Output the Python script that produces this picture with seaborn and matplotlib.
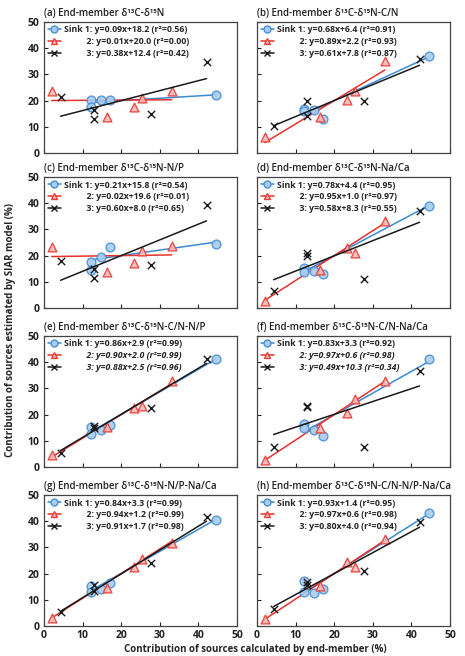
import numpy as np
import pandas as pd
import matplotlib
matplotlib.use("Agg")
import matplotlib.pyplot as plt
import seaborn as sns
from matplotlib.lines import Line2D

sns.set_theme(style="ticks")
plt.rcParams['font.family'] = ['Open Sans', 'DejaVu Sans']

# ---------------- data ----------------
panels = ["a", "b", "c", "d", "e", "f", "g", "h"]
titles = [
    "(a) End-member δ¹³C-δ¹⁵N",
    "(b) End-member δ¹³C-δ¹⁵N-C/N",
    "(c) End-member δ¹³C-δ¹⁵N-N/P",
    "(d) End-member δ¹³C-δ¹⁵N-Na/Ca",
    "(e) End-member δ¹³C-δ¹⁵N-C/N-N/P",
    "(f) End-member δ¹³C-δ¹⁵N-C/N-Na/Ca",
    "(g) End-member δ¹³C-δ¹⁵N-N/P-Na/Ca",
    "(h) End-member δ¹³C-δ¹⁵N-C/N-N/P-Na/Ca",
]

x_sink1 = [12.1, 12.1, 14.8, 17.1, 44.5]
x_sink2 = [2.0, 16.4, 23.4, 25.4, 33.1]
x_sink3 = [4.3, 13.0, 13.0, 27.8, 42.1]

y_sink1 = {
    "a": [20.3, 17.7, 20.3, 20.3, 22.1],
    "b": [16.9, 16.0, 16.6, 13.1, 37.2],
    "c": [17.6, 14.6, 19.5, 23.1, 24.5],
    "d": [15.1, 13.8, 14.0, 13.0, 38.8],
    "e": [15.1, 12.5, 14.0, 16.2, 41.2],
    "f": [16.6, 14.7, 14.0, 11.7, 41.1],
    "g": [15.3, 12.9, 14.0, 16.6, 40.4],
    "h": [17.0, 12.9, 12.5, 14.2, 43.0],
}
y_sink2 = {
    "a": [23.6, 13.9, 17.5, 21.0, 23.6],
    "b": [6.2, 13.6, 20.3, 23.6, 35.1],
    "c": [23.1, 13.8, 17.1, 21.7, 23.5],
    "d": [2.6, 14.4, 23.0, 21.0, 33.2],
    "e": [4.5, 15.1, 22.7, 23.2, 33.0],
    "f": [2.8, 14.7, 20.7, 25.8, 32.8],
    "g": [3.2, 14.6, 22.7, 25.6, 31.6],
    "h": [2.8, 15.1, 24.3, 22.4, 33.2],
}
y_sink3 = {
    "a": [21.3, 16.5, 13.1, 14.7, 34.6],
    "b": [10.2, 20.0, 14.3, 19.8, 35.8],
    "c": [17.8, 14.7, 11.4, 16.5, 39.3],
    "d": [6.4, 20.9, 19.9, 11.1, 37.2],
    "e": [5.4, 15.8, 14.8, 22.7, 41.2],
    "f": [7.5, 22.8, 23.2, 7.5, 36.6],
    "g": [5.3, 15.6, 13.5, 23.9, 41.6],
    "h": [6.3, 16.7, 15.6, 21.1, 39.7],
}

# regression (slope, intercept, r2) per panel, per sink
fit_sink1 = {"a": (0.09, 18.2, 0.56), "b": (0.68, 6.4, 0.91), "c": (0.21, 15.8, 0.54), "d": (0.78, 4.4, 0.95),
             "e": (0.86, 2.9, 0.99), "f": (0.83, 3.3, 0.92), "g": (0.84, 3.3, 0.99), "h": (0.93, 1.4, 0.95)}
fit_sink2 = {"a": (0.01, 20.0, 0.00), "b": (0.89, 2.2, 0.93), "c": (0.02, 19.6, 0.01), "d": (0.95, 1.0, 0.97),
             "e": (0.90, 2.0, 0.99), "f": (0.97, 0.6, 0.98), "g": (0.94, 1.2, 0.99), "h": (0.97, 0.6, 0.98)}
fit_sink3 = {"a": (0.38, 12.4, 0.42), "b": (0.61, 7.8, 0.87), "c": (0.60, 8.0, 0.65), "d": (0.58, 8.3, 0.55),
             "e": (0.88, 2.5, 0.96), "f": (0.49, 10.3, 0.34), "g": (0.91, 1.7, 0.98), "h": (0.80, 4.0, 0.94)}

tick_values = [0, 10, 20, 30, 40, 50]
ylabel = "Contribution of sources estimated by SIAR model (%)"
xlabel = "Contribution of sources calculated by end-member (%)"

# ---------------- style ----------------
styles = [
    dict(marker="o", fill="#a8cdee", edge="#4a90d6", line="#3b8ad4", prefix="Sink 1: "),
    dict(marker="^", fill="#f7b8b8", edge="#e8403a", line="#e8312b", prefix="          2: "),
    dict(marker="x", fill="#1a1a1a", edge="#1a1a1a", line="#1a1a1a", prefix="          3: "),
]

fig = plt.figure(figsize=(4.65, 6.56), dpi=100)
W, H = 465, 656
col_left = [44, 257]
ax_w = 193
row_top = [22, 177, 336, 495]
ax_h = 131

italic_rows = {"e": [1, 2], "f": [1, 2]}

for i, p in enumerate(panels):
    r, c = divmod(i, 2)
    ax = fig.add_axes([col_left[c] / W, 1 - (row_top[r] + ax_h) / H, ax_w / W, ax_h / H])
    xs = [x_sink1, x_sink2, x_sink3]
    ys = [y_sink1[p], y_sink2[p], y_sink3[p]]
    fits = [fit_sink1[p], fit_sink2[p], fit_sink3[p]]
    handles, labels = [], []
    for k in range(3):
        st = styles[k]
        slope, icpt, r2 = fits[k]
        xmin, xmax = min(xs[k]), max(xs[k])
        ldf = pd.DataFrame({"x": [xmin, xmax], "y": [slope * xmin + icpt, slope * xmax + icpt]})
        sns.lineplot(data=ldf, x="x", y="y", ax=ax, color=st["line"], lw=1.1, zorder=3 + k)
        df = pd.DataFrame({"x": xs[k], "y": ys[k]})
        if st["marker"] == "x":
            sns.scatterplot(data=df, x="x", y="y", ax=ax, marker="x", color=st["edge"], s=28,
                            linewidth=1.0, zorder=6)
        else:
            sns.scatterplot(data=df, x="x", y="y", ax=ax, marker=st["marker"], color=st["fill"],
                            edgecolor=st["edge"], linewidth=1.0, s=40, alpha=0.9, zorder=5)
        handles.append(Line2D([], [], color=st["line"], lw=1.1, marker=st["marker"],
                              mfc=st["fill"], mec=st["edge"], ms=5, mew=1.0))
        labels.append(f"{st['prefix']}y={slope:.2f}x+{icpt:.1f} (r²={r2:.2f})")
    leg = ax.legend(handles, labels, loc="upper left", frameon=False,
                    prop={"weight": "bold", "size": 6.3}, handlelength=1.5,
                    handletextpad=0.35, labelspacing=0.33, borderaxespad=0.2, borderpad=0.2)
    for j in italic_rows.get(p, []):
        leg.get_texts()[j].set_style("italic")

    ax.set_xlim(0, 50)
    ax.set_ylim(0, 50)
    ax.set_xticks(tick_values)
    ax.set_yticks(tick_values)
    ax.set_xlabel("")
    ax.set_ylabel("")
    ax.tick_params(direction="in", length=3, width=0.8, labelsize=7.5, pad=3, colors="#222222")
    for s in ax.spines.values():
        s.set_linewidth(0.9)
        s.set_color("#444444")
    if c == 1:
        ax.tick_params(labelleft=False)
    if r < 3:
        ax.tick_params(labelbottom=False)
    for lab in ax.get_xticklabels() + ax.get_yticklabels():
        lab.set_fontweight("bold")
    ax.set_title(titles[i], loc="left", fontsize=7, fontweight="semibold", pad=4, color="#222222")

fig.text(0.022, 0.497, ylabel, rotation=90, ha="center", va="center", fontsize=7.0, fontweight="bold")
fig.text(0.548, 0.002, xlabel, ha="center", va="bottom", fontsize=7.0, fontweight="bold")

fig.savefig("out.png", dpi=100)
